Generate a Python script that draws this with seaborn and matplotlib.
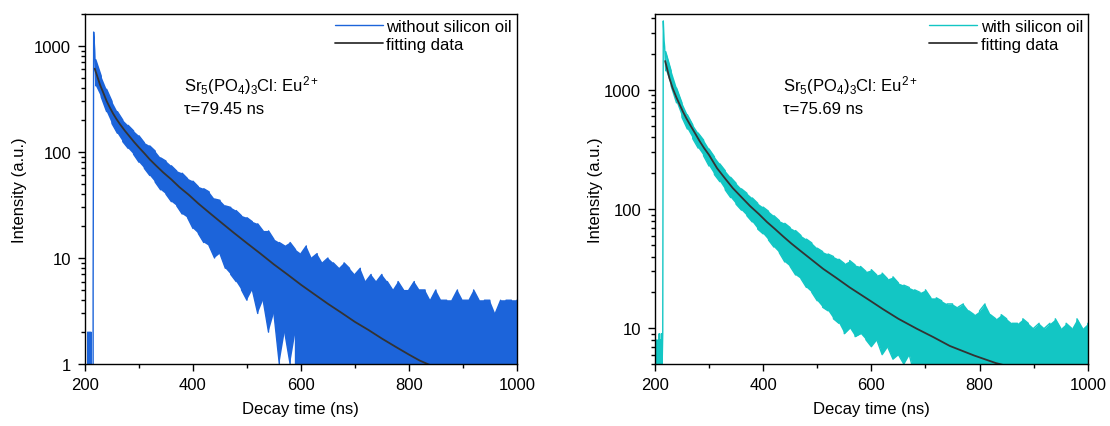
import numpy as np
import matplotlib
matplotlib.use("Agg")
import matplotlib.pyplot as plt
import matplotlib.ticker as mticker
import seaborn as sns

# ---- data ----
env_t = np.arange(220, 1001, 10)

# without silicon oil
left_head_t = [204, 205, 206, 207, 208, 209, 210, 211, 212, 214, 215, 216, 218]
left_head_counts = [0, 2, 0, 2, 0, 2, 0, 2, 0, 0, 5, 1350, 900]
left_upper = [740, 520, 390, 300, 240, 200, 178, 158, 142, 122,
              114, 102, 88, 82, 74, 66, 63, 56, 53, 47,
              45, 42, 36, 35, 31, 30, 28, 25, 24, 22,
              21, 18, 18, 15, 14, 13, 14, 12, 11, 13,
              10, 11, 9, 10, 9, 8, 9, 8, 7, 8,
              6, 7, 6, 7, 6, 5, 6, 5, 5, 6,
              5, 5, 4, 5, 4, 4, 4, 5, 4, 4,
              5, 4, 4, 4, 3, 4, 4, 4, 4]
left_lower = [420, 330, 240, 185, 150, 125, 108, 95, 80, 70,
              60, 52, 44, 40, 34, 31, 26, 24, 19, 17,
              14, 13, 10, 11, 8, 7, 6, 5, 4, 5,
              3, 4, 2, 3, 1, 2, 1, 2, 0, 1,
              0, 0, 0, 0, 0, 0, 0, 0, 0, 0,
              0, 0, 0, 0, 0, 0, 0, 0, 0, 0,
              0, 0, 0, 0, 0, 0, 0, 0, 0, 0,
              0, 0, 0, 0, 0, 0, 0, 0, 0]
left_fit_t = [218, 223, 228, 234, 240, 246, 252, 258, 265, 274, 283, 291, 300, 310,
              320, 332, 345, 360, 375, 392, 410, 430, 450, 475, 500, 525, 550,
              575, 600, 625, 650, 675, 700, 725, 750, 775, 800, 820, 845]
left_fit_counts = [610, 510, 427, 360, 302, 262, 230, 205, 182, 158, 139, 124, 110, 97,
                   85, 74, 64, 55, 46.5, 39.5, 32.6, 26.8, 22.1, 17.4, 13.8, 11.0, 8.7,
                   7.0, 5.6, 4.55, 3.7, 3.05, 2.5, 2.1, 1.74, 1.46, 1.23, 1.08, 0.95]

# with silicon oil
right_head_t = [200, 201, 202, 203, 204, 205, 206, 207, 208, 209, 210, 211, 212, 213,
                214.5, 215.5, 217, 218]
right_head_counts = [7, 4, 8, 4, 7, 4, 8, 4, 9, 4, 8, 4, 9, 4,
                     9, 3800, 2600, 2300]
right_upper = [2100, 1450, 1040, 780, 620, 510, 435, 380, 320, 275,
               240, 210, 185, 165, 148, 136, 124, 112, 104, 96,
               88, 80, 76, 70, 66, 60, 56, 52, 47, 44,
               42, 40, 38, 35, 37, 34, 33, 30, 31, 28,
               29, 26, 27, 24, 23, 22, 21, 20, 21, 18,
               18, 17, 16, 16, 15, 16, 14, 13, 14, 16,
               13, 12, 13, 12, 11, 11, 12, 11, 10, 11,
               10, 11, 12, 10, 11, 10, 12, 10, 11]
right_lower = [1450, 1080, 780, 590, 470, 390, 325, 280, 230, 195,
               170, 145, 125, 110, 98, 88, 78, 68, 62, 55,
               48, 43, 36, 33, 28, 26, 22, 20, 17, 15,
               14, 12, 11, 9, 10, 8.5, 9, 8, 7, 8,
               6, 7, 5.5, 6, 5, 6, 4, 5, 4, 3,
               4, 3, 4, 2, 3, 4, 3, 2, 3, 4,
               3, 2, 3, 3, 4, 2, 3, 3, 2, 3,
               4, 3, 2, 3, 3, 2, 3, 4, 3]
right_fit_t = [219, 223, 227, 233, 240, 246, 252, 258, 265, 274, 283, 291, 300, 315,
               330, 344, 360, 376, 392, 407, 422, 437, 452, 468, 490, 511, 535, 560,
               598, 621, 650, 684, 715, 745, 790, 830, 845]
right_fit_counts = [1750, 1480, 1250, 1030, 860, 750, 655, 580, 510, 435, 370, 325, 285, 220,
                    180, 150, 126, 106, 91, 78, 68, 59, 51.5, 45, 37.5, 31.5, 26.5, 22,
                    17, 14.5, 12, 9.9, 8.4, 7.1, 5.9, 5.1, 4.9]


def trace(head_t, head_c, upper, lower):
    t, c = list(head_t), list(head_c)
    for i, x in enumerate(env_t):
        pair = (lower[i], upper[i]) if i % 2 == 0 else (upper[i], lower[i])
        t += [x, x]
        c += list(pair)
    return t, c


sns.set_theme(style="ticks")
plt.rcParams["font.family"] = ["Liberation Sans", "DejaVu Sans"]
plt.rcParams["mathtext.fontset"] = "custom"
plt.rcParams["mathtext.rm"] = "Liberation Sans"
plt.rcParams["mathtext.it"] = "Liberation Sans:italic"
plt.rcParams["mathtext.bf"] = "Liberation Sans:bold"
plt.rcParams["text.color"] = "black"
plt.rcParams["axes.labelcolor"] = "black"
plt.rcParams["xtick.color"] = "black"
plt.rcParams["ytick.color"] = "black"

fig = plt.figure(figsize=(11.1, 4.27), dpi=100)
ax1 = fig.add_axes([0.0766, 0.145, 0.389, 0.820])
ax2 = fig.add_axes([0.590, 0.145, 0.390, 0.820])

panels = [
    (ax1, left_head_t, left_head_counts, left_upper, left_lower, left_fit_t, left_fit_counts,
     "#1c64da", "without silicon oil", (1, 2000), "79.45", 0.229, 5),
    (ax2, right_head_t, right_head_counts, right_upper, right_lower, right_fit_t, right_fit_counts,
     "#13c6c4", "with silicon oil", (5, 4350), "75.69", 0.296, 1),
]

for ax, ht, hc, up, lo, ft, fc, col, lab, ylim, tau, tx, lpad in panels:
    ax.set_yscale("log")
    ax.fill_between(env_t, lo, up, color=col, lw=0)
    t, c = trace(ht, hc, up, lo)
    sns.lineplot(x=t, y=c, ax=ax, color=col, lw=1.0, estimator=None, sort=False, label=lab)
    sns.lineplot(x=ft, y=fc, ax=ax, color="#333333", lw=1.3, estimator=None, sort=False,
                 label="fitting data")
    ax.set_xlim(200, 1000)
    ax.set_ylim(*ylim)
    ax.xaxis.set_major_locator(mticker.MultipleLocator(200))
    ax.xaxis.set_minor_locator(mticker.MultipleLocator(100))
    ax.yaxis.set_major_locator(mticker.LogLocator(base=10))
    ax.yaxis.set_minor_locator(mticker.LogLocator(base=10, subs=np.arange(2, 10)))
    ax.yaxis.set_major_formatter(mticker.FuncFormatter(lambda v, p: f"{v:g}"))
    ax.yaxis.set_minor_formatter(mticker.NullFormatter())
    ax.tick_params(which="both", direction="out", top=False, right=False, color="black",
                   width=1, labelsize=12, labelcolor="black")
    ax.tick_params(which="major", length=5)
    ax.tick_params(which="minor", length=3)
    ax.tick_params(axis="x", pad=4.5)
    ax.tick_params(axis="y", pad=5)
    for s in ax.spines.values():
        s.set_linewidth(1.0)
        s.set_color("black")
    ax.set_xlabel("Decay time (ns)", fontsize=12, labelpad=6)
    ax.set_ylabel("Intensity (a.u.)", fontsize=12, labelpad=lpad)
    ax.text(tx, 0.797, "Sr$_5$(PO$_4$)$_3$Cl: Eu$^{2+}$", transform=ax.transAxes,
            fontsize=12, va="center", ha="left")
    ax.text(tx, 0.729, "\u03c4=" + tau + " ns", transform=ax.transAxes,
            fontsize=12, va="center", ha="left")
    leg = ax.legend(loc="upper right", frameon=False, fontsize=12, handlelength=2.9,
                    borderaxespad=0.1, borderpad=0.2, labelspacing=0.2, handletextpad=0.2)
    for txt in leg.get_texts():
        txt.set_color("black")

fig.savefig("out.png", dpi=100)
